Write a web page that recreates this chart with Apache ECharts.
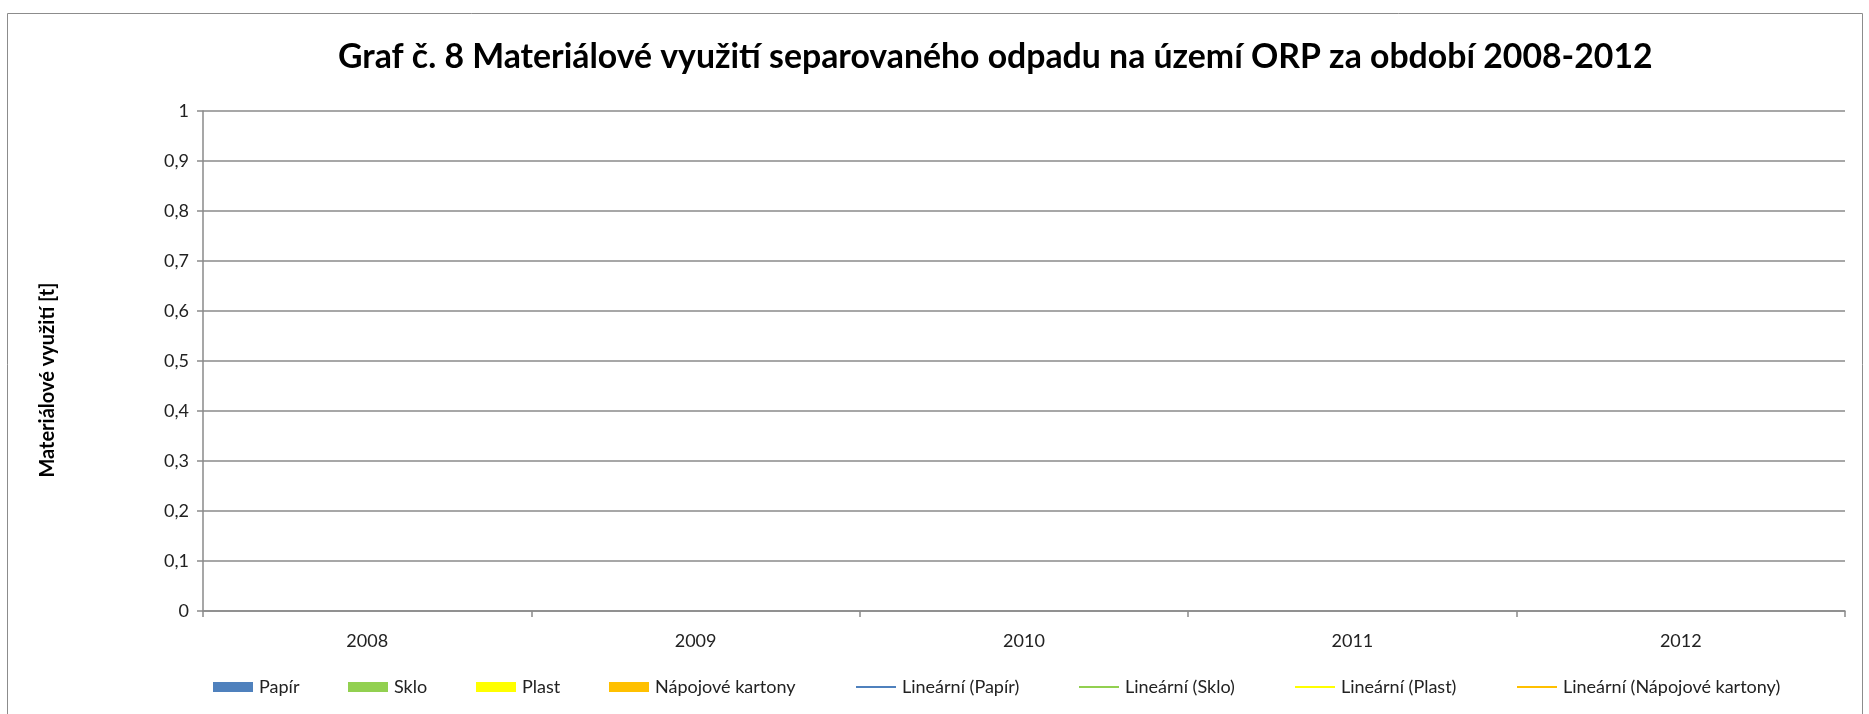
<!DOCTYPE html>
<html lang="cs">
<head>
<meta charset="utf-8">
<title>Materiálové využití separovaného odpadu</title>
<script src="https://cdn.jsdelivr.net/npm/echarts@6/dist/echarts.min.js"></script>
<style>
  html, body { margin: 0; padding: 0; background: #ffffff; }
  #chart { width: 1869px; height: 714px; }
</style>
</head>
<body>
<div id="chart"></div>
<script>
// Roky na ose X
const years = ['2008', '2009', '2010', '2011', '2012'];

// Materiálové využití [t] podle komodit – za sledované období nejsou k dispozici žádné hodnoty
const papir = [null, null, null, null, null];
const sklo = [null, null, null, null, null];
const plast = [null, null, null, null, null];
const napojoveKartony = [null, null, null, null, null];

// Lineární trendy jednotlivých komodit (bez dat)
const trendPapir = [null, null, null, null, null];
const trendSklo = [null, null, null, null, null];
const trendPlast = [null, null, null, null, null];
const trendKartony = [null, null, null, null, null];

// Rozsah osy Y
const yMin = 0;
const yMax = 1;
const yStep = 0.1;

const FONT = 'Lato, "Open Sans", sans-serif';
const GRID_COLOR = '#8a8a8a';

const barSeries = [
  { name: 'Papír', data: papir, color: '#4F81BD' },
  { name: 'Sklo', data: sklo, color: '#92D050' },
  { name: 'Plast', data: plast, color: '#FFFF00' },
  { name: 'Nápojové kartony', data: napojoveKartony, color: '#FFC000' }
];
const lineSeries = [
  { name: 'Lineární (Papír)', data: trendPapir, color: '#4F81BD' },
  { name: 'Lineární (Sklo)', data: trendSklo, color: '#92D050' },
  { name: 'Lineární (Plast)', data: trendPlast, color: '#FFFF00' },
  { name: 'Lineární (Nápojové kartony)', data: trendKartony, color: '#FFC000' }
];

// Umístění jednotlivých položek legendy (levý okraj značky)
const legendLeft = [208, 343, 471, 604, 851, 1074, 1290, 1512];
const LINE_ICON = 'path://M0,0 L40,0 L40,2 L0,2 Z';

const legends = barSeries.concat(lineSeries).map((s, i) => ({
  left: legendLeft[i],
  top: 673,
  orient: 'horizontal',
  itemWidth: 40,
  itemHeight: 10,
  symbolKeepAspect: true,
  selectedMode: false,
  textStyle: { fontFamily: FONT, fontSize: 18, color: '#222', padding: [0, 0, 0, 1] },
  data: [{ name: s.name, icon: i < 4 ? 'rect' : LINE_ICON }]
}));

const fmtAxis = v => String(Number(v.toFixed(1))).replace('.', ',');

const chart = echarts.init(document.getElementById('chart'), null, { renderer: 'canvas' });

chart.setOption({
  backgroundColor: '#ffffff',
  animation: false,
  title: {
    text: 'Graf č. 8 Materiálové využití separovaného odpadu na území ORP za období 2008-2012',
    left: 333,
    top: 35,
    textStyle: { fontFamily: FONT, fontSize: 33.8, fontWeight: 'bold', color: '#000' }
  },
  graphic: [{
    type: 'rect',
    silent: true,
    shape: { x: 7.5, y: 13.5, width: 1855, height: 760 },
    style: { fill: 'none', stroke: '#8c8c8c', lineWidth: 1 }
  }],
  legend: legends,
  grid: { left: 203, right: 24, top: 111, bottom: 103, containLabel: false },
  xAxis: {
    type: 'category',
    data: years,
    boundaryGap: true,
    axisLine: { lineStyle: { color: GRID_COLOR, width: 1.5 } },
    axisTick: { show: true, length: 6, lineStyle: { color: GRID_COLOR, width: 1.5 } },
    axisLabel: { fontFamily: FONT, fontSize: 18, color: '#222', margin: 21 }
  },
  yAxis: {
    type: 'value',
    min: yMin,
    max: yMax,
    interval: yStep,
    name: 'Materiálové využití [t]',
    nameLocation: 'middle',
    nameGap: 145,
    nameRotate: 90,
    nameTextStyle: { fontFamily: FONT, fontSize: 20, fontWeight: 'bold', color: '#000', padding: [0, 38, 0, 0] },
    axisLine: { show: true, lineStyle: { color: GRID_COLOR, width: 1.5 } },
    axisTick: { show: true, inside: false, length: 6, lineStyle: { color: GRID_COLOR, width: 1.5 } },
    splitLine: { show: true, lineStyle: { color: GRID_COLOR, width: 1.5 } },
    axisLabel: { fontFamily: FONT, fontSize: 18, color: '#222', margin: 14, formatter: fmtAxis }
  },
  series: barSeries.map(s => ({
    name: s.name,
    type: 'bar',
    data: s.data,
    itemStyle: { color: s.color }
  })).concat(lineSeries.map(s => ({
    name: s.name,
    type: 'line',
    data: s.data,
    showSymbol: false,
    symbol: 'none',
    itemStyle: { color: s.color },
    lineStyle: { color: s.color, width: 2 }
  })))
});
</script>
</body>
</html>
